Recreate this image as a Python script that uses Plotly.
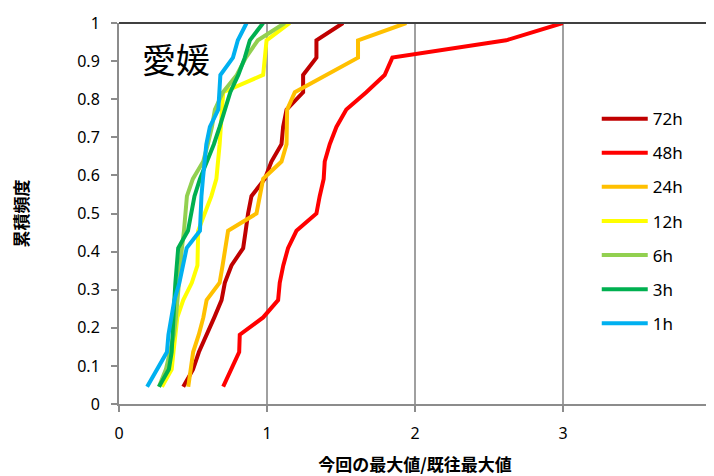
import plotly.graph_objects as go

n_points = 22
freq = [i / n_points for i in range(1, n_points + 1)]

series_names = ["72h", "48h", "24h", "12h", "6h", "3h", "1h"]
series_colors = ["#C00000", "#FF0000", "#FFC000", "#FFFF00", "#92D050", "#00B050", "#00B0F0"]

x_72h = [0.434, 0.50, 0.54, 0.594, 0.644, 0.693, 0.715, 0.76, 0.839, 0.856, 0.872,
         0.895, 0.985, 1.03, 1.098, 1.109, 1.132, 1.244, 1.244, 1.334, 1.334, 1.514]
x_48h = [0.704, 0.756, 0.812, 0.816, 0.974, 1.075, 1.086, 1.11, 1.142, 1.199, 1.334,
         1.356, 1.383, 1.39, 1.424, 1.469, 1.536, 1.671, 1.795, 1.847, 2.616, 2.998]
x_24h = [0.468, 0.484, 0.501, 0.539, 0.57, 0.592, 0.68, 0.70, 0.719, 0.737, 0.929,
         0.951, 0.974, 1.098, 1.132, 1.134, 1.136, 1.188, 1.403, 1.615, 1.615, 1.941]
x_12h = [0.29, 0.356, 0.368, 0.381, 0.394, 0.434, 0.492, 0.53, 0.535, 0.535, 0.579,
         0.624, 0.658, 0.672, 0.68, 0.688, 0.695, 0.704, 0.974, 0.985, 0.997, 1.154]
x_6h = [0.27, 0.317, 0.344, 0.371, 0.385, 0.395, 0.405, 0.412, 0.425, 0.439, 0.449,
        0.459, 0.499, 0.569, 0.60, 0.628, 0.648, 0.702, 0.796, 0.857, 0.938, 1.12]
x_3h = [0.27, 0.337, 0.356, 0.36, 0.366, 0.374, 0.381, 0.391, 0.40, 0.466, 0.486,
        0.51, 0.547, 0.594, 0.641, 0.68, 0.715, 0.752, 0.806, 0.85, 0.884, 0.974]
x_1h = [0.19, 0.26, 0.324, 0.334, 0.354, 0.374, 0.408, 0.435, 0.457, 0.547, 0.55,
        0.557, 0.567, 0.58, 0.59, 0.614, 0.671, 0.678, 0.685, 0.77, 0.803, 0.862]

series_x = [x_72h, x_48h, x_24h, x_12h, x_6h, x_3h, x_1h]

x_ticks = [0, 1, 2, 3, 4]
y_ticks = [0, 0.1, 0.2, 0.3, 0.4, 0.5, 0.6, 0.7, 0.8, 0.9, 1]
y_tick_labels = ["0", "0.1", "0.2", "0.3", "0.4", "0.5", "0.6", "0.7", "0.8", "0.9", "1"]

fig = go.Figure()
for name, color, xs in zip(series_names, series_colors, series_x):
    fig.add_trace(go.Scatter(
        x=xs, y=freq, mode="lines", name=name, legendgroup=name,
        line=dict(color=color, width=4), cliponaxis=False,
    ))

tick_font = dict(family="Noto Sans, Open Sans, sans-serif", size=16, color="#000000")
cjk_bold = dict(family="Noto Sans CJK JP", size=17, color="#000000", weight="bold")

fig.update_layout(
    width=714, height=476,
    margin=dict(l=111, r=11, t=15, b=80, autoexpand=False),
    paper_bgcolor="white", plot_bgcolor="white",
    showlegend=True,
    legend=dict(
        x=0.807, y=0.795, xanchor="left", yanchor="top",
        font=dict(family="Noto Sans, Open Sans, sans-serif", size=17, color="#000000"),
        bgcolor="rgba(0,0,0,0)", tracegroupgap=9, traceorder="grouped",
        itemwidth=46,
    ),
    xaxis=dict(
        range=[0, 4], tickvals=x_ticks, ticktext=[str(v) for v in x_ticks],
        showgrid=True, gridcolor="#A0A0A0", gridwidth=1.5,
        showline=True, linecolor="#8C8C8C", linewidth=2,
        ticks="outside", ticklen=6, tickcolor="#8C8C8C", tickwidth=1.5,
        tickfont=tick_font, zeroline=False, ticklabelstandoff=8,
        automargin=False,
        title=dict(text="今回の最大値/既往最大値", font=cjk_bold, standoff=16),
    ),
    yaxis=dict(
        range=[0, 1], tickvals=y_ticks, ticktext=y_tick_labels,
        showgrid=False,
        showline=True, linecolor="#8C8C8C", linewidth=2,
        ticks="outside", ticklen=6, tickcolor="#8C8C8C", tickwidth=1.5,
        tickfont=tick_font, zeroline=False, ticklabelstandoff=8,
        automargin=False,
        title=dict(text="累積頻度", font=cjk_bold, standoff=53),
    ),
    shapes=[
        dict(type="line", xref="paper", yref="paper", x0=0, x1=1, y0=1, y1=1,
             line=dict(color="#404040", width=2)),
        dict(type="line", xref="paper", yref="paper", x0=1, x1=1, y0=0, y1=1,
             line=dict(color="#404040", width=1.5)),
    ],
    annotations=[
        dict(text="愛媛", xref="paper", yref="paper", x=0.096, y=0.906,
             xanchor="center", yanchor="middle", showarrow=False,
             font=dict(family="Noto Sans CJK JP", size=34, color="#000000")),
    ],
)

fig.write_html("out.html")
